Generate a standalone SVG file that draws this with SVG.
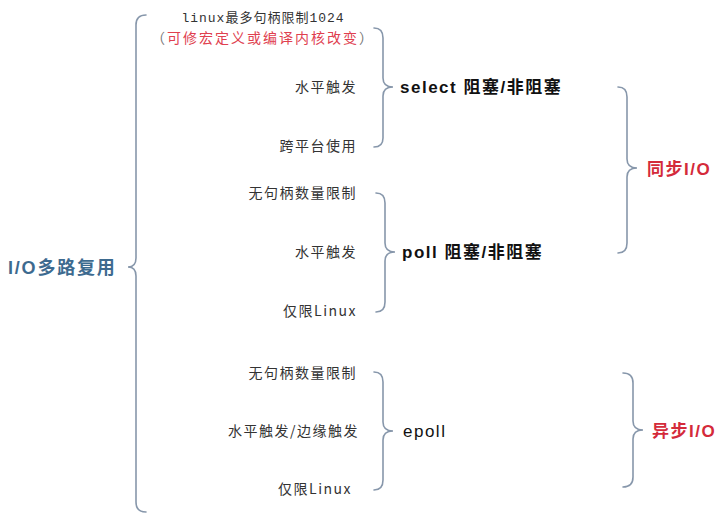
<svg xmlns="http://www.w3.org/2000/svg" width="727" height="518" viewBox="0 0 727 518">
<style>
.br{fill:none;stroke:#8797ab;stroke-width:1.6;stroke-linecap:round}
.lb{font-family:"Noto Sans CJK SC","Liberation Sans",sans-serif;font-size:14px;fill:#333;letter-spacing:1.5px}
.hd{font-family:"Liberation Sans","Noto Sans CJK SC",sans-serif;font-size:17px;font-weight:bold;fill:#111;letter-spacing:1.5px}
.sy{font-family:"Liberation Sans","Noto Sans CJK SC",sans-serif;font-size:17px;font-weight:bold;fill:#d42a3a;letter-spacing:1.5px}
</style>
<rect width="727" height="518" fill="#fff"/>
<g id="connectors">
<path class="br" d="M146,15 Q136,15 136,25 L136,258 Q136,267 128,267 Q136,267 136,276 L136,502 Q136,512 146,512"/>
<path class="br" d="M374,28 Q383,28 383,38 L383,78 Q383,87 393,87 Q383,87 383,96 L383,138 Q383,147 374,147"/>
<path class="br" d="M376,193 Q385,193 385,203 L385,243 Q385,252 395,252 Q385,252 385,261 L385,302 Q385,312 376,312"/>
<path class="br" d="M374,372 Q383,372 383,382 L383,422 Q383,431 393,431 Q383,431 383,440 L383,480 Q383,490 374,490"/>
<path class="br" d="M618,87 Q627,87 627,97 L627,159 Q627,168 637,168 Q627,168 627,177 L627,243 Q627,253 618,253"/>
<path class="br" d="M623,373 Q633,373 633,383 L633,421 Q633,430 643,430 Q633,430 633,439 L633,477 Q633,487 623,487"/>
</g>
<g id="root"><text x="8" y="274" font-family="Liberation Sans,'Noto Sans CJK SC',sans-serif" font-size="18" font-weight="bold" fill="#3d6a8f" letter-spacing="1.8">I/O多路复用</text></g>
<g id="select-items">
<text x="263" y="22" text-anchor="middle" font-family="'Liberation Mono','Noto Sans CJK SC',monospace" font-size="13" fill="#333" letter-spacing="1">linux最多句柄限制1024</text>
<text x="263" y="43" text-anchor="middle" font-family="'Noto Sans CJK SC',sans-serif" font-size="14" letter-spacing="2" fill="#e0404f"><tspan fill="#777">（</tspan>可修宏定义或编译内核改变<tspan fill="#777">）</tspan></text>
<text class="lb" x="357" y="92" text-anchor="end">水平触发</text>
<text class="lb" x="357" y="151" text-anchor="end">跨平台使用</text>
</g>
<g id="select"><text class="hd" x="400" y="93">select 阻塞/非阻塞</text></g>
<g id="poll-items">
<text class="lb" x="357" y="198" text-anchor="end">无句柄数量限制</text>
<text class="lb" x="357" y="257" text-anchor="end">水平触发</text>
<text class="lb" x="357" y="316" text-anchor="end">仅限Linux</text>
</g>
<g id="poll"><text class="hd" x="402" y="258">poll 阻塞/非阻塞</text></g>
<g id="epoll-items">
<text class="lb" x="357" y="378" text-anchor="end">无句柄数量限制</text>
<text class="lb" x="359" y="436" text-anchor="end">水平触发/边缘触发</text>
<text class="lb" x="352" y="494" text-anchor="end">仅限Linux</text>
</g>
<g id="epoll"><text class="hd" x="403" y="437" style="font-weight:normal">epoll</text></g>
<g id="sync"><text class="sy" x="647" y="175">同步I/O</text></g>
<g id="async"><text class="sy" x="652" y="437">异步I/O</text></g>
</svg>
